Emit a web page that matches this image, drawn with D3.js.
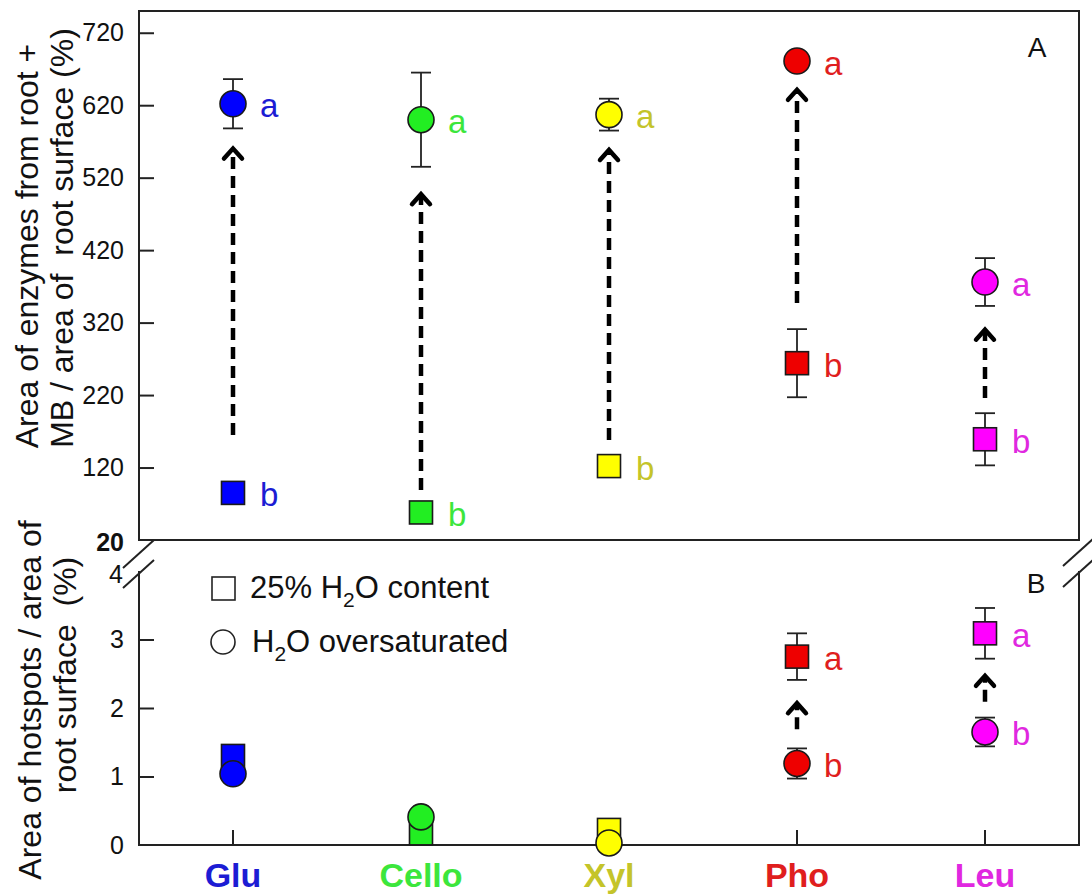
<!DOCTYPE html>
<html>
<head>
<meta charset="utf-8">
<script src="https://cdn.jsdelivr.net/npm/d3@7"></script>
<style>
  body { margin: 0; background: #fff; }
  svg { font-family: "Liberation Sans", Arial, sans-serif; }
  text { white-space: pre; }
</style>
</head>
<body>
<div id="chart"></div>
<script>
// categories and colours
const categories = ["Glu", "Cello", "Xyl", "Pho", "Leu"];
const markerColors = ["#0000ff", "#22ee22", "#ffff00", "#ee0000", "#ff00ff"];
const textColors = ["#1c1cd4", "#3ce63c", "#c4c42a", "#e01e1e", "#e028e0"];

// panel A : area of enzymes from root + MB / area of root surface (%)
const topTicks = [20, 120, 220, 320, 420, 520, 620, 720];
const topSquare = [85, 58, 122, 264, 159];
const topSquareErr = [8, 0, 7, 47, 36];
const topCircle = [622, 600, 607, 681, 376];
const topCircleErr = [34, 65, 22, 0, 33];
const topSquareLetter = ["b", "b", "b", "b", "b"];
const topCircleLetter = ["a", "a", "a", "a", "a"];
const topArrowFrom = [165, 89, 158, 347, 216];
const topArrowTo = [563, 500, 561, 644, 313];

// panel B : area of hotspots / area of root surface (%)
const botTicks = [0, 1, 2, 3, 4];
const botSquare = [1.30, 0.17, 0.22, 2.75, 3.09];
const botSquareErr = [0, 0, 0, 0.34, 0.37];
const botCircle = [1.04, 0.41, 0.03, 1.19, 1.65];
const botCircleErr = [0, 0, 0, 0.22, 0.21];
const botSquareLetter = ["", "", "", "a", "a"];
const botCircleLetter = ["", "", "", "b", "b"];
const botArrowFrom = [null, null, null, 1.69, 2.09];
const botArrowTo = [null, null, null, 2.10, 2.50];

const W = 1092, H = 896;
const left = 139, right = 1079;

const svg = d3.select("#chart").append("svg")
  .attr("width", W)
  .attr("height", H);

const x = d3.scaleBand().domain(categories).range([left, right]).padding(0);
const cx = c => x(c) + x.bandwidth() / 2;

const yTop = d3.scaleLinear().domain([20, 750]).range([540, 11]);
const yBot = d3.scaleLinear().domain([0, 4]).range([845, 571]);

const SQ = 23, R = 13;

// ---------- panel frames ----------
svg.append("rect")
  .attr("x", left).attr("y", yTop(750))
  .attr("width", right - left).attr("height", yTop(20) - yTop(750))
  .attr("fill", "none").attr("stroke", "#222").attr("stroke-width", 2);

// bottom panel: left, bottom and right lines
svg.append("path")
  .attr("d", `M${left},${yBot(4)}V${yBot(0)}H${right}V${yBot(4)}`)
  .attr("fill", "none").attr("stroke", "#222").attr("stroke-width", 2);

// break marks
[[left, 554], [left, 574], [right, 552], [right, 573]].forEach(p => {
  svg.append("line")
    .attr("x1", p[0] - 16).attr("y1", p[1] + 14)
    .attr("x2", p[0] + 15).attr("y2", p[1] - 14)
    .attr("stroke", "#222").attr("stroke-width", 2);
});

// ---------- axes ----------
const topAxis = d3.axisLeft(yTop).tickValues(topTicks).tickSize(-15).tickSizeOuter(0).tickPadding(15);
const topAxisG = svg.append("g").attr("transform", `translate(${left},0)`).call(topAxis);
topAxisG.select(".domain").remove();
topAxisG.attr("font-size", 25).attr("font-family", "Liberation Sans, Arial, sans-serif");
topAxisG.selectAll("text").attr("fill", "#111");
topAxisG.selectAll(".tick").filter(d => d === 20).select("line").remove();
topAxisG.selectAll(".tick").filter(d => d === 20).select("text").attr("font-weight", "bold").attr("dy", "0.42em");
topAxisG.selectAll("line").attr("stroke", "#222").attr("stroke-width", 2);

const botAxis = d3.axisLeft(yBot).tickValues(botTicks).tickFormat(d3.format("d"))
  .tickSize(-15).tickSizeOuter(0).tickPadding(15);
const botAxisG = svg.append("g").attr("transform", `translate(${left},0)`).call(botAxis);
botAxisG.select(".domain").remove();
botAxisG.attr("font-size", 25).attr("font-family", "Liberation Sans, Arial, sans-serif");
botAxisG.selectAll("text").attr("fill", "#111");
botAxisG.selectAll(".tick").filter(d => d === 4 || d === 0).select("line").remove();
botAxisG.selectAll(".tick").filter(d => d === 4).select("text").attr("dy", "0.45em").attr("x", -16);
botAxisG.selectAll("line").attr("stroke", "#222").attr("stroke-width", 2);

const xAxis = d3.axisBottom(x).tickSize(-15).tickSizeOuter(0).tickPadding(18);
const xAxisG = svg.append("g").attr("transform", `translate(0,${yBot(0)})`).call(xAxis);
xAxisG.select(".domain").remove();
xAxisG.selectAll("line").attr("stroke", "#222").attr("stroke-width", 2);
xAxisG.attr("font-size", 34).attr("font-family", "Liberation Sans, Arial, sans-serif");
xAxisG.selectAll("text")
  .attr("font-weight", "bold")
  .attr("fill", (d, i) => textColors[i]);

// ---------- axis titles ----------
const titles = [
  {t: "Area of enzymes from root +", x: 38, y: 246},
  {t: "MB / area of  root surface (%)", x: 73, y: 238},
  {t: "Area of hotspots / area of", x: 41, y: 700},
  {t: "root surface  (%)", x: 76, y: 675}
];
titles.forEach(d => {
  svg.append("text")
    .attr("transform", `translate(${d.x},${d.y}) rotate(-90)`)
    .attr("text-anchor", "middle")
    .attr("font-size", 32)
    .attr("fill", "#111")
    .text(d.t);
});

// panel letters
svg.append("text").attr("x", 1037).attr("y", 57).attr("text-anchor", "middle")
  .attr("font-size", 28).attr("fill", "#111").text("A");
svg.append("text").attr("x", 1036).attr("y", 593).attr("text-anchor", "middle")
  .attr("font-size", 28).attr("fill", "#111").text("B");

// ---------- marks ----------
function drawPanel(y, sq, sqErr, ci, ciErr, sqLet, ciLet, aFrom, aTo) {
  const g = svg.append("g");

  // dashed arrows
  categories.forEach((c, i) => {
    if (aFrom[i] == null) return;
    const xx = cx(c);
    const y0 = y(aFrom[i]), y1 = y(aTo[i]);
    g.append("line")
      .attr("x1", xx).attr("x2", xx)
      .attr("y1", y0).attr("y2", y1 + 4)
      .attr("stroke", "#000").attr("stroke-width", 4.5)
      .attr("stroke-dasharray", "12,7");
    g.append("path")
      .attr("d", `M${xx - 9},${y1 + 12}L${xx},${y1 + 2}L${xx + 9},${y1 + 12}`)
      .attr("fill", "none").attr("stroke", "#000").attr("stroke-width", 4.5)
      .attr("stroke-linecap", "round");
  });

  // error bars
  const errs = [];
  categories.forEach((c, i) => {
    if (sqErr[i] > 0) errs.push({c: c, v: sq[i], e: sqErr[i]});
    if (ciErr[i] > 0) errs.push({c: c, v: ci[i], e: ciErr[i]});
  });
  errs.forEach(d => {
    const xx = cx(d.c);
    g.append("line").attr("x1", xx).attr("x2", xx)
      .attr("y1", y(d.v - d.e)).attr("y2", y(d.v + d.e))
      .attr("stroke", "#222").attr("stroke-width", 1.8);
    [d.v - d.e, d.v + d.e].forEach(v => {
      g.append("line").attr("x1", xx - 10).attr("x2", xx + 10)
        .attr("y1", y(v)).attr("y2", y(v))
        .attr("stroke", "#222").attr("stroke-width", 1.8);
    });
  });

  // squares
  g.selectAll(".sq").data(categories).join("rect")
    .attr("class", "sq")
    .attr("x", c => cx(c) - SQ / 2)
    .attr("y", (c, i) => y(sq[i]) - SQ / 2)
    .attr("width", SQ).attr("height", SQ)
    .attr("fill", (c, i) => markerColors[i])
    .attr("stroke", "#1a1a1a").attr("stroke-width", 1.6);

  // circles
  g.selectAll(".ci").data(categories).join("circle")
    .attr("class", "ci")
    .attr("cx", c => cx(c))
    .attr("cy", (c, i) => y(ci[i]))
    .attr("r", R)
    .attr("fill", (c, i) => markerColors[i])
    .attr("stroke", "#1a1a1a").attr("stroke-width", 1.6);

  // significance letters
  const lets = [];
  categories.forEach((c, i) => {
    if (sqLet[i]) lets.push({c: c, i: i, v: sq[i], t: sqLet[i]});
    if (ciLet[i]) lets.push({c: c, i: i, v: ci[i], t: ciLet[i]});
  });
  g.selectAll(".let").data(lets).join("text")
    .attr("class", "let")
    .attr("x", d => cx(d.c) + 27)
    .attr("y", d => y(d.v) + 2)
    .attr("dominant-baseline", "central")
    .attr("font-size", 33)
    .attr("fill", d => textColors[d.i])
    .text(d => d.t);
}

drawPanel(yTop, topSquare, topSquareErr, topCircle, topCircleErr,
  topSquareLetter, topCircleLetter, topArrowFrom, topArrowTo);
drawPanel(yBot, botSquare, botSquareErr, botCircle, botCircleErr,
  botSquareLetter, botCircleLetter, botArrowFrom, botArrowTo);

// ---------- legend ----------
const leg = svg.append("g");
leg.append("rect").attr("x", 212).attr("y", 577).attr("width", 23).attr("height", 23)
  .attr("fill", "none").attr("stroke", "#222").attr("stroke-width", 1.6);
leg.append("circle").attr("cx", 223).attr("cy", 642).attr("r", 12)
  .attr("fill", "none").attr("stroke", "#222").attr("stroke-width", 1.6);

const l1 = leg.append("text").attr("x", 250).attr("y", 598).attr("font-size", 31).attr("fill", "#111");
l1.append("tspan").text("25% H");
l1.append("tspan").attr("font-size", 21).attr("dy", 9).text("2");
l1.append("tspan").attr("dy", -9).text("O content");

const l2 = leg.append("text").attr("x", 252).attr("y", 652).attr("font-size", 31).attr("fill", "#111");
l2.append("tspan").text("H");
l2.append("tspan").attr("font-size", 21).attr("dy", 9).text("2");
l2.append("tspan").attr("dy", -9).text("O oversaturated");
</script>
</body>
</html>
